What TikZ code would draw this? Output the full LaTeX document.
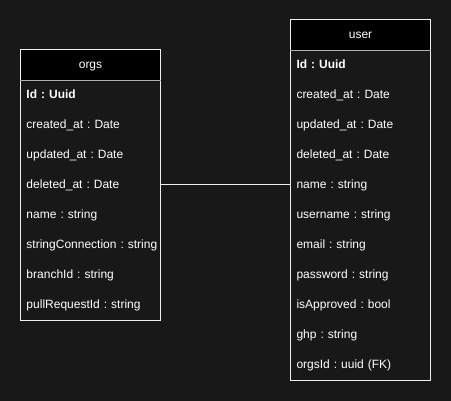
\documentclass[tikz,border=0pt]{standalone}
\usepackage{fontspec}
\setmainfont{Liberation Sans}
\usetikzlibrary{positioning}
\definecolor{bgdark}{HTML}{181818}
\definecolor{edgegray}{HTML}{F0F0F0}
\definecolor{sepgray}{HTML}{B0B0B0}
\frenchspacing

\begin{document}
\begin{tikzpicture}[x=1pt, y=-1pt,
    every node/.style={font=\fontsize{12}{14}\selectfont, text=white, text height=9pt, text depth=2.5pt},
    head/.style={fill=black, minimum width=140pt, minimum height=30pt, inner sep=0pt},
    field/.style={text width=128pt, inner xsep=6pt, inner ysep=0pt, minimum height=30pt, align=left},
    boxline/.style={draw=edgegray, line width=1pt},
    sepline/.style={draw=sepgray, line width=1pt},
    link/.style={draw=edgegray, line width=1pt}]
    \useasboundingbox[fill=bgdark] (0,0) rectangle (451,401);
    % orgs table
    \node[head] (orgs) at (90.5,65) {orgs};
    \foreach \t [count=\i] in {{\textbf{Id : Uuid}}, created\_at : Date, updated\_at : Date, deleted\_at : Date, name : string, stringConnection : string, branchId : string, pullRequestId : string}
        \node[field] (o\i) at (90.5,65+30*\i) {\makebox[0pt][l]{\t}};
    \draw[boxline] (orgs.north west) rectangle (o8.south east);
    \draw[sepline] (orgs.south west) -- (orgs.south east);
    % user table
    \node[head] (user) at (360.5,35) {user};
    \foreach \t [count=\i] in {{\textbf{Id : Uuid}}, created\_at : Date, updated\_at : Date, deleted\_at : Date, name : string, username : string, email : string, password : string, isApproved : bool, ghp : string, orgsId : uuid (FK)}
        \node[field] (u\i) at (360.5,35+30*\i) {\makebox[0pt][l]{\t}};
    \draw[boxline] (user.north west) rectangle (u11.south east);
    \draw[sepline] (user.south west) -- (user.south east);
    % relation
    \draw[link] (o4.east) -- (u5.west);
\end{tikzpicture}
\end{document}
